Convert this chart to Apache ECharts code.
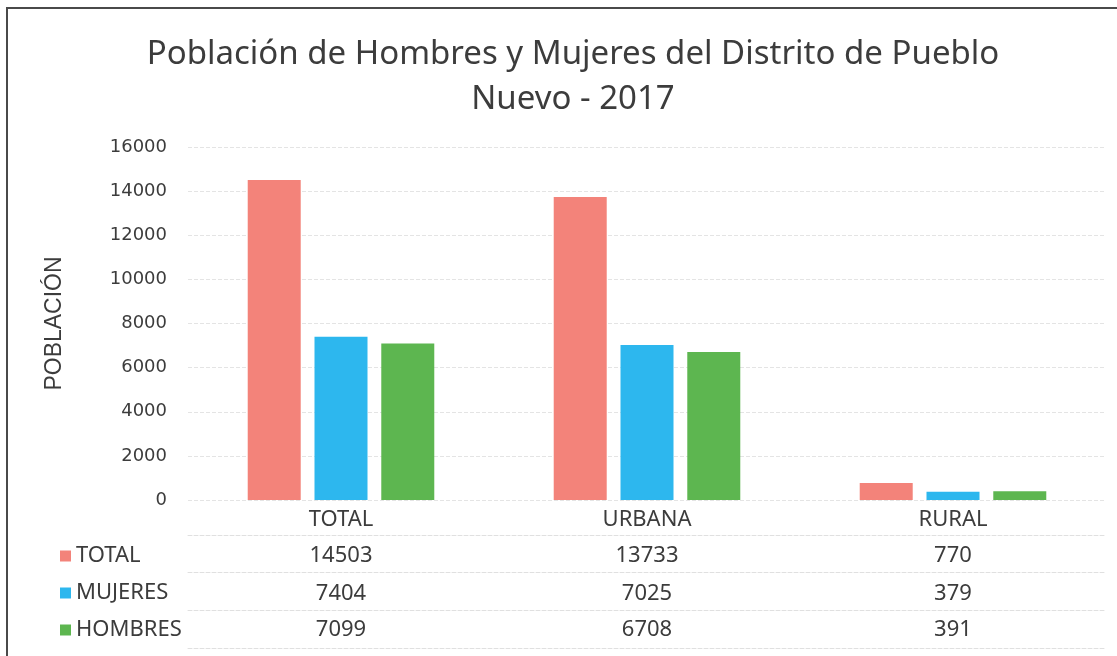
<!DOCTYPE html>
<html>
<head>
<meta charset="utf-8">
<script src="https://cdn.jsdelivr.net/npm/echarts@6/dist/echarts.min.js"></script>
<style>
    html, body { margin: 0; padding: 0; background: #fff; }
    #frame {
        position: absolute; left: 6px; top: 7px;
        width: 1120px; height: 660px;
        border-left: 2px solid #4a4a4a; border-top: 2px solid #4a4a4a;
    }
    #chart { position: absolute; left: 0; top: 0; width: 1117px; height: 656px; }
</style>
</head>
<body>
<div id="frame"></div>
<div id="chart"></div>
<script>
const categories = ['TOTAL', 'URBANA', 'RURAL'];
const seriesNames = ['TOTAL', 'MUJERES', 'HOMBRES'];
const totalValues = [14503, 13733, 770];
const mujeresValues = [7404, 7025, 379];
const hombresValues = [7099, 6708, 391];
const yTicks = { min: 0, max: 16000, interval: 2000 };

const colors = ['#F3837A', '#2DB7EE', '#5DB650'];
const textColor = '#3c3c3c';
const font = '"Noto Sans"';

const rows = [totalValues, mujeresValues, hombresValues];

// one axis per table row, its labels are the values under each category
const tableAxis = (values, offset, margin) => ({
    type: 'category',
    data: categories,
    position: 'bottom',
    offset: offset,
    axisLine: { show: true, lineStyle: { color: '#e0e0e0', type: 'dashed', width: 1 } },
    axisTick: { show: false },
    axisLabel: {
        show: !!values,
        margin: margin,
        color: textColor,
        fontSize: 22,
        fontFamily: font,
        formatter: (v, i) => values ? String(values[i]) : ''
    },
    splitLine: { show: false }
});

const chart = echarts.init(document.getElementById('chart'));

const option = {
    animation: false,
    color: colors,
    title: {
        text: 'Población de Hombres y Mujeres del Distrito de Pueblo\nNuevo - 2017',
        left: 568,
        textAlign: 'center',
        top: 27,
        textStyle: {
            color: textColor,
            fontSize: 33,
            fontWeight: 'normal',
            fontFamily: font,
            lineHeight: 45
        }
    },
    legend: {
        orient: 'vertical',
        left: 55,
        top: 540,
        itemWidth: 11,
        itemHeight: 11,
        itemGap: 15,
        icon: 'rect',
        data: seriesNames,
        textStyle: { color: textColor, fontSize: 22, fontFamily: font }
    },
    grid: { left: 188, right: 11, top: 147, bottom: 156 },
    xAxis: [
        {
            type: 'category',
            data: categories,
            axisLine: { show: false },
            axisTick: { show: false },
            axisLabel: { margin: 9, color: textColor, fontSize: 22, fontFamily: font }
        },
        tableAxis(rows[0], 35, 10),
        tableAxis(rows[1], 72, 11),
        tableAxis(rows[2], 110, 9),
        tableAxis(null, 148, 0)
    ],
    yAxis: {
        type: 'value',
        min: yTicks.min,
        max: yTicks.max,
        interval: yTicks.interval,
        name: 'POBLACIÓN',
        nameLocation: 'middle',
        nameGap: 122,
        nameTextStyle: { color: textColor, fontSize: 23, fontFamily: '"Liberation Sans"' },
        axisLabel: {
            margin: 21,
            color: textColor,
            fontSize: 18,
            fontFamily: '"DejaVu Sans"',
            formatter: v => String(v)
        },
        axisLine: { show: false },
        axisTick: { show: false },
        splitLine: { lineStyle: { color: '#e4e4e4', type: 'dashed' } }
    },
    series: [
        { name: seriesNames[0], type: 'bar', data: totalValues, barWidth: 53, barGap: '26%' },
        { name: seriesNames[1], type: 'bar', data: mujeresValues, barWidth: 53, barGap: '26%' },
        { name: seriesNames[2], type: 'bar', data: hombresValues, barWidth: 53, barGap: '26%' }
    ]
};

chart.setOption(option);
</script>
</body>
</html>
